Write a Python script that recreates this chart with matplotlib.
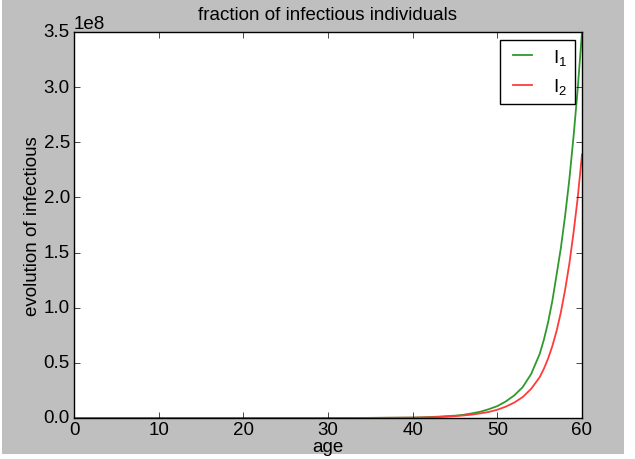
import matplotlib
matplotlib.use('Agg')
import matplotlib.pyplot as plt
from matplotlib.patches import Rectangle

plt.style.use('classic')
plt.rcParams['font.family'] = ['Liberation Sans', 'DejaVu Sans']
plt.rcParams['mathtext.default'] = 'regular'
plt.rcParams['font.size'] = 13.5
plt.rcParams['xtick.major.pad'] = 2
plt.rcParams['ytick.major.pad'] = 3

# age grid and values (units of 1e8)
age = [0, 10, 20, 30, 35, 40, 41, 42, 43, 44, 45, 46, 47, 48, 49, 50,
       51, 52, 53, 54, 55, 55.5, 56, 56.5, 57, 57.5, 58, 58.5, 59, 59.5, 60]
I1 = [0.0, 0.0, 0.0, 0.0, 0.001, 0.004, 0.006, 0.009, 0.012, 0.017, 0.021,
      0.029, 0.042, 0.057, 0.080, 0.108, 0.15, 0.205, 0.28, 0.40, 0.58, 0.71,
      0.87, 1.063, 1.30, 1.54, 1.83, 2.16, 2.55, 2.99, 3.5]
I2 = [0.0, 0.0, 0.0, 0.0, 0.001, 0.003, 0.004, 0.006, 0.009, 0.012, 0.017,
      0.023, 0.031, 0.042, 0.055, 0.075, 0.103, 0.14, 0.19, 0.265, 0.37,
      0.447, 0.54, 0.653, 0.79, 0.957, 1.16, 1.396, 1.68, 2.00, 2.39]

fig = plt.figure(figsize=(6.35, 4.6), dpi=100, facecolor='white')
# gray backdrop, leaving the thin white strip at right/bottom like the screenshot
fig.patches.append(Rectangle((2/635, 5/460), 622/635, 455/460,
                             transform=fig.transFigure, facecolor='0.75',
                             edgecolor='none', zorder=-10))
ax = fig.add_axes([74/635, 1 - 419/460, 508/635, 386/460])

ax.plot(age, [v * 1e8 for v in I1], color='#2e9a2e', lw=1.3, label='$I_1$')
ax.plot(age, [v * 1e8 for v in I2], color='#ff3b3b', lw=1.3, label='$I_2$')

ax.set_xlim(0, 60)
ax.set_ylim(0, 3.5e8)
ax.set_title('fraction of infectious individuals', fontsize=13.5, pad=9)
ax.set_xlabel('age', fontsize=13.5, labelpad=0)
ax.set_ylabel('evolution of infectious', fontsize=13.5, labelpad=2)
ax.legend(loc='upper right', fontsize=13.5, handlelength=1.6,
          borderaxespad=0.4)

fig.savefig('out.png', dpi=100, facecolor=fig.get_facecolor())
